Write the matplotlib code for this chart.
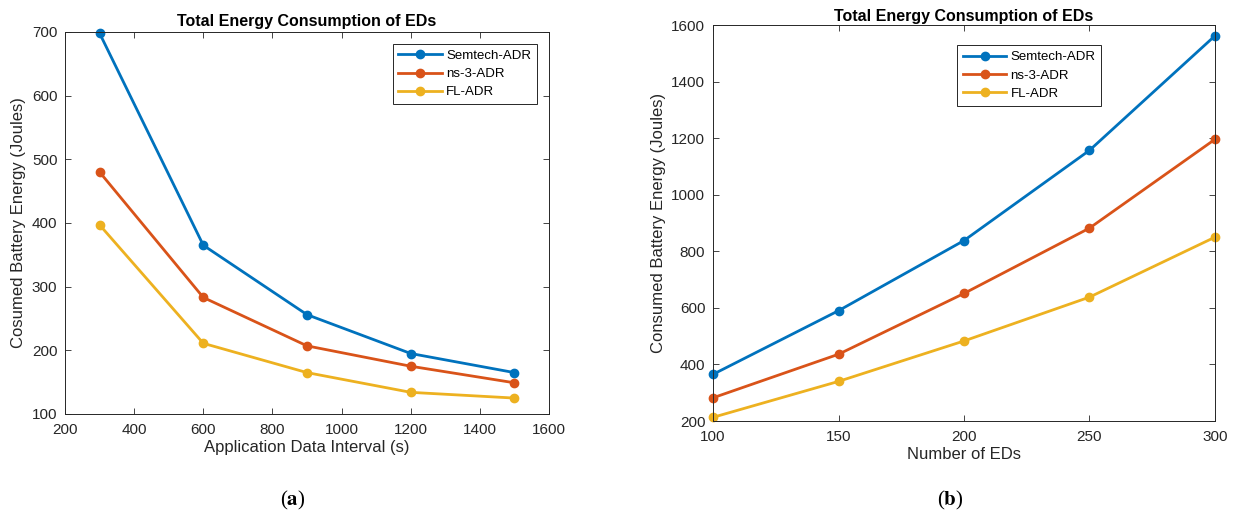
import matplotlib
matplotlib.use("Agg")
import matplotlib.pyplot as plt

# panel (a): energy vs application data interval
interval = [300, 600, 900, 1200, 1500]
semtech_a = [698, 365, 256, 195, 165]
ns3_a = [480, 283, 207, 175, 149]
fl_a = [397, 211, 165, 134, 125]

# panel (b): energy vs number of EDs
num_eds = [100, 150, 200, 250, 300]
semtech_b = [365, 590, 838, 1157, 1562]
ns3_b = [282, 436, 651, 882, 1196]
fl_b = [213, 340, 483, 638, 850]

series_names = ["Semtech-ADR", "ns-3-ADR", "FL-ADR"]
colors = ["#0072BD", "#D95319", "#EDB120"]

plt.rcParams['font.family'] = ['Liberation Sans', 'DejaVu Sans']
plt.rcParams['mathtext.fontset'] = 'stix'

fig = plt.figure(figsize=(12.34, 5.16), dpi=100)
ax1 = fig.add_axes([0.0527, 0.1977, 0.3922, 0.7403])
ax2 = fig.add_axes([0.5778, 0.1841, 0.4068, 0.7674])

def style(ax):
    ax.tick_params(direction='in', top=True, right=True, labelsize=11,
                   colors='#262626', length=4, width=0.6)
    ax.tick_params(axis='x', pad=6.5)
    ax.tick_params(axis='y', pad=5.5)
    for s in ax.spines.values():
        s.set_color('#262626')
        s.set_linewidth(0.7)

def legend(ax, anchor, loc):
    lg = ax.legend(loc=loc, bbox_to_anchor=anchor, fontsize=9.5,
                   fancybox=False, edgecolor='#262626', framealpha=1, borderpad=0.45,
                   handlelength=3.3, labelspacing=0.45, handletextpad=0.3, borderaxespad=0)
    lg.get_frame().set_linewidth(0.7)

for ys, c, n in zip([semtech_a, ns3_a, fl_a], colors, series_names):
    ax1.plot(interval, ys, '-o', color=c, lw=2, ms=6, label=n, clip_on=False)
ax1.set_xlim(200, 1600)
ax1.set_ylim(100, 700)
ax1.set_xticks(range(200, 1601, 200))
ax1.set_yticks(range(100, 701, 100))
ax1.set_xlabel('Application Data Interval (s)', fontsize=12, color='#262626', labelpad=2)
ax1.set_ylabel('Cosumed Battery Energy (Joules)', fontsize=12, color='#262626', labelpad=4)
ax1.set_title('Total Energy Consumption of EDs', fontsize=11.5, fontweight='bold', pad=4)
style(ax1)
legend(ax1, (0.975, 0.969), 'upper right')

for ys, c, n in zip([semtech_b, ns3_b, fl_b], colors, series_names):
    ax2.plot(num_eds, ys, '-o', color=c, lw=2, ms=6, label=n, clip_on=False)
ax2.set_xlim(100, 300)
ax2.set_ylim(200, 1600)
ax2.set_xticks(range(100, 301, 50))
ax2.set_yticks(range(200, 1601, 200))
ax2.set_xlabel('Number of EDs', fontsize=12, color='#262626', labelpad=2)
ax2.set_ylabel('Consumed Battery Energy (Joules)', fontsize=12, color='#262626', labelpad=4)
ax2.set_title('Total Energy Consumption of EDs', fontsize=11.5, fontweight='bold', pad=3)
style(ax2)
legend(ax2, (0.486, 0.949), 'upper left')

fig.text(0.237, 0.030, r'($\mathbf{a}$)', fontsize=15, family='Liberation Serif', ha='center', va='center')
fig.text(0.770, 0.030, r'($\mathbf{b}$)', fontsize=15, family='Liberation Serif', ha='center', va='center')

fig.savefig('out.png', dpi=100)
